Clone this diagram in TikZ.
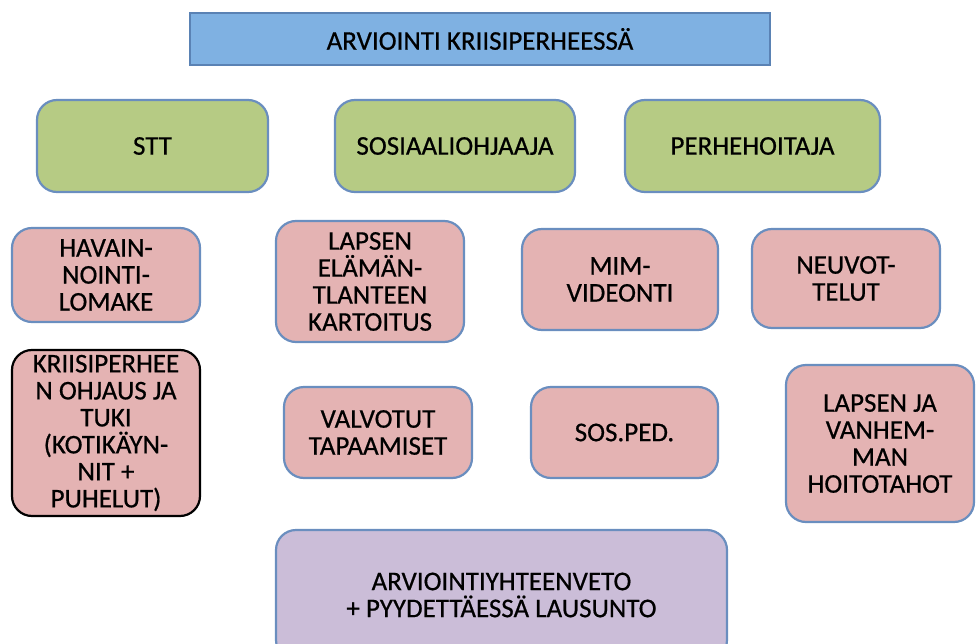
\documentclass[tikz,border=0pt]{standalone}
\usepackage{fontspec}
\setmainfont{Carlito}[FakeBold=0.6,AutoFakeBold=0.6]
\newfontfamily\boxfont{Carlito}[FakeBold=0.6]
\definecolor{bluefill}{HTML}{7FB1E2}
\definecolor{blueedge}{HTML}{5A82B4}
\definecolor{greenfill}{HTML}{B6CB84}
\definecolor{pinkfill}{HTML}{E4B3B3}
\definecolor{purplefill}{HTML}{CBBDD8}
\definecolor{edge}{HTML}{6A8EBF}
\tikzset{
  boxtext/.style={font=\fontsize{27}{27}\bfseries\selectfont},
  box/.style={draw=edge, line width=2.2pt, rounded corners=20pt, inner sep=0pt, align=center, boxtext},
  titlebox/.style={draw=blueedge, fill=bluefill, line width=2pt, inner sep=0pt, align=center, boxtext},
  greenbox/.style={box, fill=greenfill},
  pinkbox/.style={box, fill=pinkfill},
  blackbox/.style={box, fill=pinkfill, draw=black},
  purplebox/.style={box, fill=purplefill},
}
\begin{document}
\begin{tikzpicture}[x=1pt,y=-1pt]
\useasboundingbox (0,0) rectangle (976,644);
\clip (0,0) rectangle (976,644);
\node[titlebox, minimum width=580pt, minimum height=52pt] (title) at (480,39) {ARVIOINTI KRIISIPERHEESSÄ};
\node[greenbox, minimum width=231pt, minimum height=92pt] (stt) at (152.5,146) {STT};
\node[greenbox, minimum width=240pt, minimum height=92pt] (sos) at (455,146) {SOSIAALIOHJAAJA};
\node[greenbox, minimum width=255pt, minimum height=92pt] (perhe) at (752.5,146) {PERHEHOITAJA};
\node[pinkbox, minimum width=188pt, minimum height=94pt] (hav) at (106,275) {HAVAIN-\\NOINTI-\\LOMAKE};
\node[pinkbox, minimum width=188pt, minimum height=121pt] (lapsen) at (370,281.5) {LAPSEN\\ELÄMÄN-\\TLANTEEN\\KARTOITUS};
\node[pinkbox, minimum width=196pt, minimum height=101pt] (mim) at (620,279.5) {MIM-\\VIDEONTI};
\node[pinkbox, minimum width=188pt, minimum height=99pt] (neuvot) at (846,278.5) {NEUVOT-\\TELUT};
\node[blackbox, minimum width=188pt, minimum height=166pt] (kriisi) at (106,433) {KRIISIPERHEE\\N OHJAUS JA\\TUKI\\(KOTIKÄYN-\\NIT +\\PUHELUT)};
\node[pinkbox, minimum width=188pt, minimum height=91pt] (valvo) at (378,432.5) {VALVOTUT\\TAPAAMISET};
\node[pinkbox, minimum width=187pt, minimum height=91pt] (sosped) at (624.5,432.5) {SOS.PED.};
\node[pinkbox, minimum width=188pt, minimum height=157pt] (hoito) at (880,443.5) {LAPSEN JA\\VANHEM-\\MAN\\HOITOTAHOT};
\node[purplebox, minimum width=451pt, minimum height=130pt] (summary) at (501.5,595) {ARVIOINTIYHTEENVETO\\+ PYYDETTÄESSÄ LAUSUNTO};
\end{tikzpicture}
\end{document}
